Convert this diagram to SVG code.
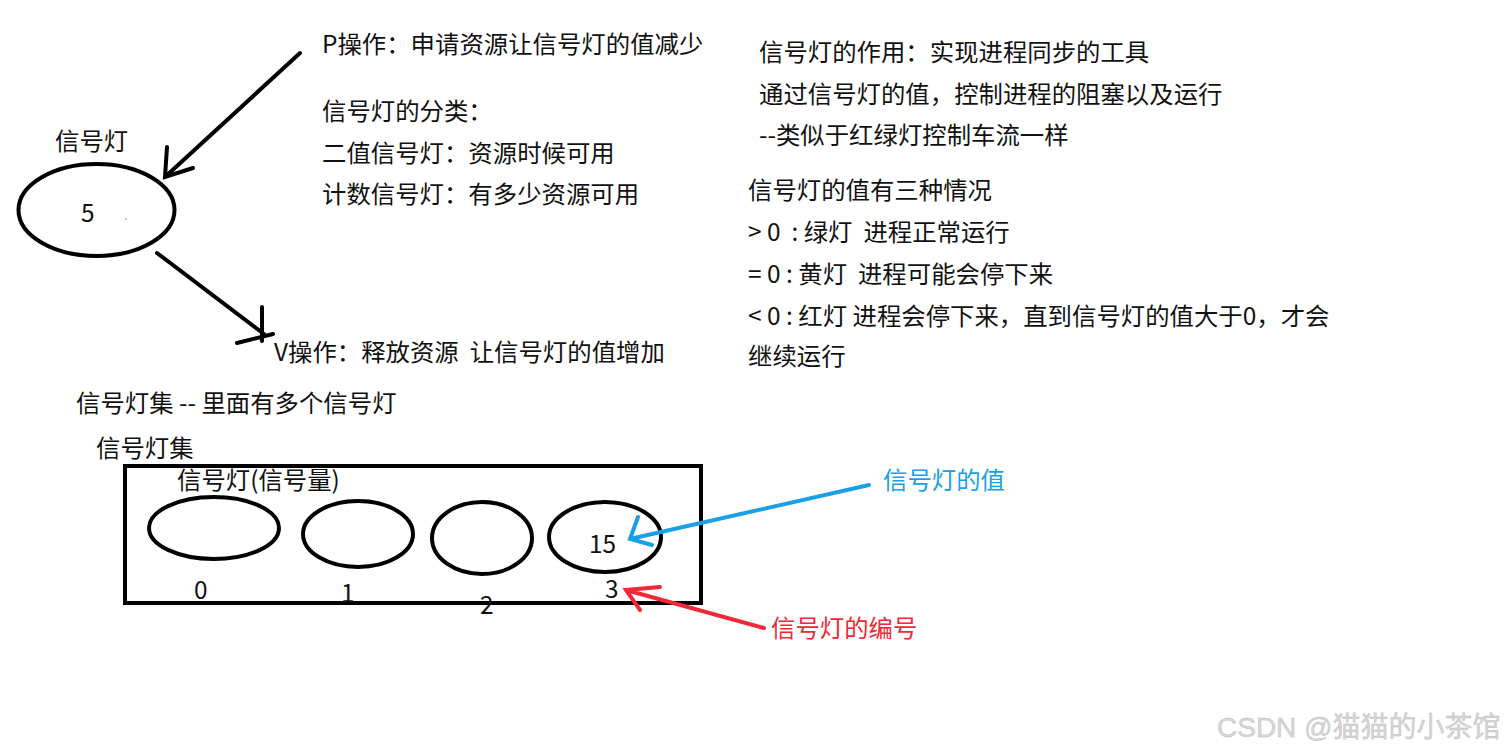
<svg xmlns="http://www.w3.org/2000/svg" width="1512" height="754" viewBox="0 0 1512 754">
<style>
.t{font-family:"Noto Sans CJK SC","Liberation Sans",sans-serif;font-size:24.4px;fill:#111;white-space:pre}
.s{fill:none;stroke:#000;stroke-width:4;stroke-linecap:round}
.blue{stroke:#1aa0e6}
.red{stroke:#ef2a36}
</style>
<rect width="1512" height="754" fill="#fff"/>
<g id="sem-main">
<ellipse class="s" cx="96.5" cy="210" rx="78" ry="46"/>
<text class="t" x="55" y="150">信号灯</text>
<text class="t" x="81" y="222">5</text>
<circle cx="126" cy="219" r="0.8" fill="#888"/>
</g>
<g id="texts-left">
<text class="t" x="322" y="53">P操作：申请资源让信号灯的值减少</text>
<text class="t" x="322" y="120">信号灯的分类：</text>
<text class="t" x="322" y="162">二值信号灯：资源时候可用</text>
<text class="t" x="322" y="203">计数信号灯：有多少资源可用</text>
<text class="t" x="274" y="361" xml:space="preserve">V操作：释放资源  让信号灯的值增加</text>
<text class="t" x="76" y="412">信号灯集 -- 里面有多个信号灯</text>
<text class="t" x="96" y="457">信号灯集</text>
</g>
<g id="texts-right">
<text class="t" x="759" y="61">信号灯的作用：实现进程同步的工具</text>
<text class="t" x="759" y="103">通过信号灯的值，控制进程的阻塞以及运行</text>
<text class="t" x="759" y="144">--类似于红绿灯控制车流一样</text>
<text class="t" x="748" y="199">信号灯的值有三种情况</text>
<text class="t" x="748" y="241" xml:space="preserve">&gt; 0  : 绿灯  进程正常运行</text>
<text class="t" x="748" y="283" xml:space="preserve">= 0 : 黄灯  进程可能会停下来</text>
<text class="t" x="748" y="325" xml:space="preserve">&lt; 0 : 红灯 进程会停下来，直到信号灯的值大于0，才会</text>
<text class="t" x="748" y="365">继续运行</text>
</g>
<g id="sem-set">
<rect class="s" x="125" y="466" width="576" height="137" stroke-linecap="butt"/>
<text class="t" x="177" y="489">信号灯(信号量)</text>
<ellipse class="s" cx="214" cy="528" rx="65" ry="31"/>
<ellipse class="s" cx="358" cy="534" rx="55" ry="33"/>
<ellipse class="s" cx="482" cy="538" rx="50" ry="36"/>
<ellipse class="s" cx="605" cy="537" rx="56" ry="35"/>
<text class="t" x="589" y="553">15</text>
<text class="t" x="194" y="599">0</text>
<text class="t" x="341" y="602">1</text>
<text class="t" x="480" y="614">2</text>
<text class="t" x="605" y="598">3</text>
</g>
<g id="labels">
<text class="t" x="883" y="489" style="fill:#1aa0e6">信号灯的值</text>
<text class="t" x="771" y="637" style="fill:#ef2a36">信号灯的编号</text>
<text x="1217" y="737" style="font-family:'Liberation Sans','Noto Sans CJK SC',sans-serif;font-size:28px;fill:#d6d6d6;stroke:#bdbdbd;stroke-width:0.4">CSDN @猫猫的小茶馆</text>
</g>
<g id="connectors">
<path class="s" d="M300 53 L165 177 M167 147 L165 177 L193 168"/>
<path class="s" d="M157 253 L264 334 M262 307 L262 341 M237 343 L273 334"/>
<path class="s blue" d="M869 485 L630 539 M638 517 L630 539 L652 545"/>
<path class="s red" d="M764 628 L626 590 M660 587 L626 590 L640 610"/>
</g>
</svg>
